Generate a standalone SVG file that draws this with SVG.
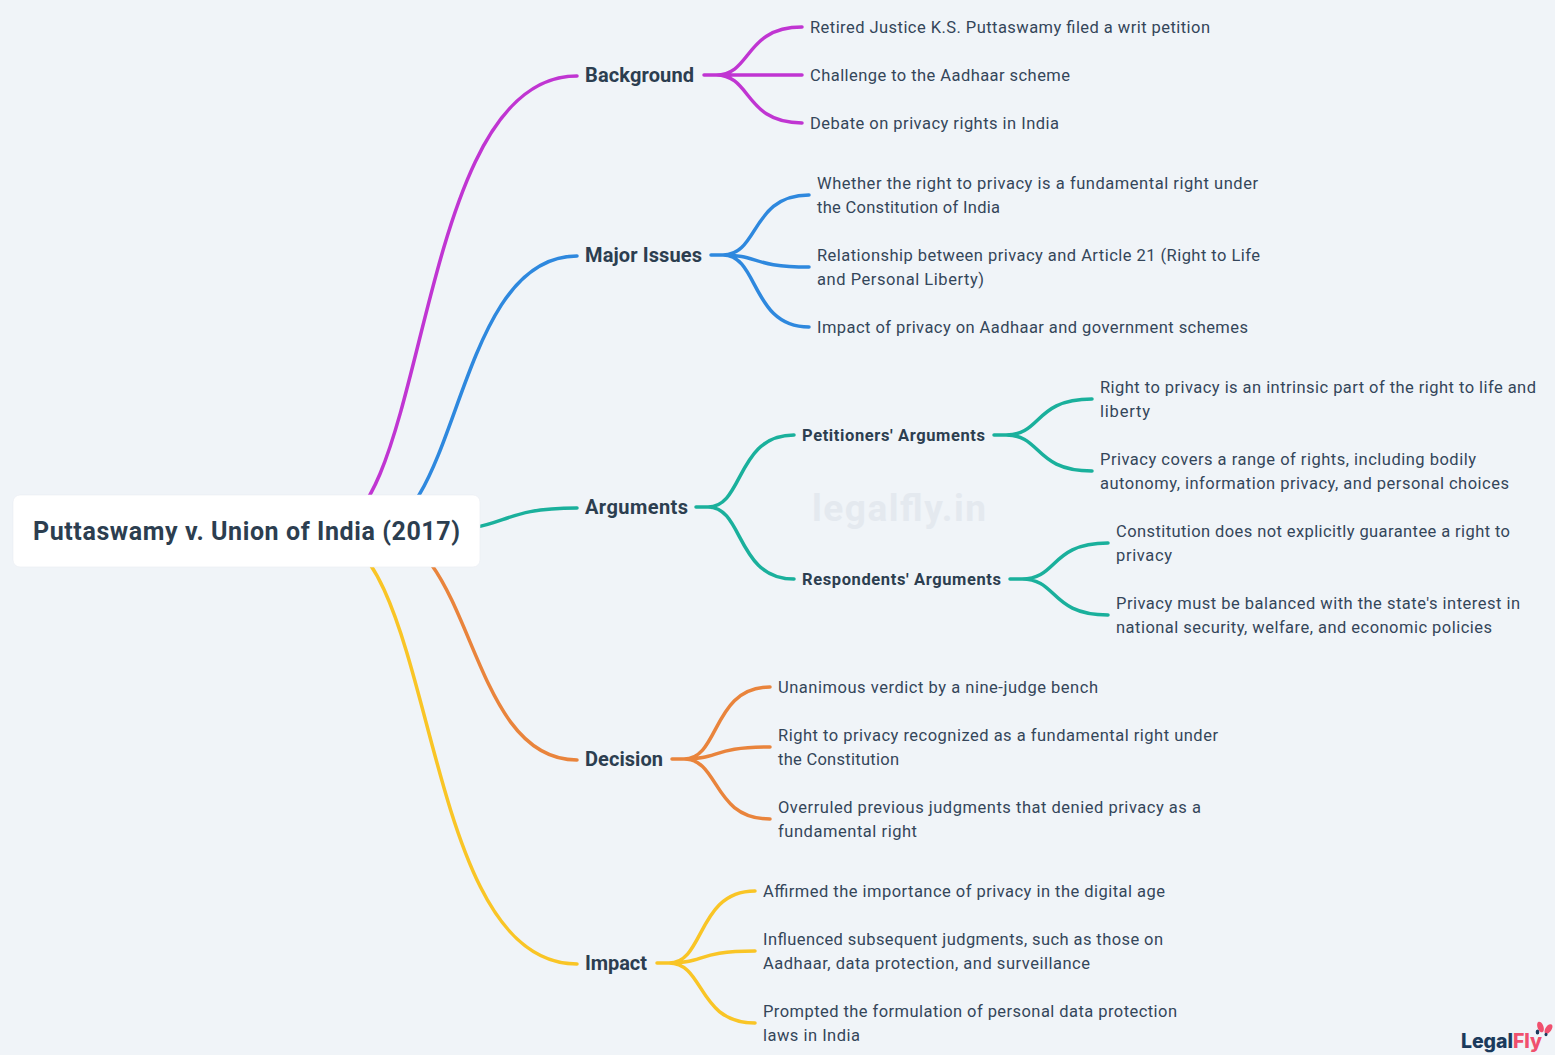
<svg xmlns="http://www.w3.org/2000/svg" width="1555" height="1055" viewBox="0 0 1555 1055">
<style>
text{font-family:Roboto,"Liberation Sans",sans-serif}
.c{fill:none;stroke-width:3.5;stroke-linecap:round}
.p{stroke:#c035d2}.b{stroke:#2e88de}.g{stroke:#1ab09c}.o{stroke:#e9843c}.y{stroke:#f9c526}
.t{font-size:16.5px;fill:#34465a}
.l{font-size:20px;font-weight:700;fill:#2c3e50}
.s{font-size:16.5px;font-weight:700;fill:#2c3e50}
</style>
<rect width="1555" height="1055" fill="#f0f4f8"/>
<text x="812" y="521" font-size="37" font-weight="700" fill="#e4e9ef" textLength="174">legalfly.in</text>
<g id="connectors">
<path class="c p" d="M325 531C430 531 412 76 577 76"/>
<path class="c b" d="M370 531C460 531 454 256 577 256"/>
<path class="c g" d="M430 531C510 531 495 508 577 508"/>
<path class="c o" d="M375 531C475 531 465 760 577 760"/>
<path class="c y" d="M320 531C440 531 415 964 577 964"/>
<path class="c p" d="M704 75H716C752 75 744 27 802 27M704 75H802M704 75H716C752 75 744 123 802 123"/>
<path class="c b" d="M711 255H723C759 255 751 195 809 195M711 255H723C759 255 751 267 809 267M711 255H723C759 255 751 327 809 327"/>
<path class="c g" d="M696 507H708C744 507 736 435 794 435M696 507H708C744 507 736 579 794 579"/>
<path class="c g" d="M994 435H1006C1042 435 1034 399 1092 399M994 435H1006C1042 435 1034 471 1092 471"/>
<path class="c g" d="M1010 579H1022C1058 579 1050 543 1108 543M1010 579H1022C1058 579 1050 615 1108 615"/>
<path class="c o" d="M672 759H684C720 759 712 687 770 687M672 759H684C720 759 712 747 770 747M672 759H684C720 759 712 819 770 819"/>
<path class="c y" d="M657 963H669C705 963 697 891 755 891M657 963H669C705 963 697 951 755 951M657 963H669C705 963 697 1023 755 1023"/>
</g>
<g id="root"><rect x="13" y="495" width="467" height="72" rx="7" fill="#fff" stroke="#e9edf2" stroke-width="0.6"/><text x="33" y="540" font-size="25" font-weight="700" fill="#2c3e50" textLength="427">Puttaswamy v. Union of India (2017)</text></g>
<g id="background"><text class="l" x="585" y="82" textLength="109">Background</text></g>
<g id="b1"><text class="t" x="810" y="33" textLength="400">Retired Justice K.S. Puttaswamy filed a writ petition</text></g>
<g id="b2"><text class="t" x="810" y="81" textLength="260">Challenge to the Aadhaar scheme</text></g>
<g id="b3"><text class="t" x="810" y="129" textLength="249">Debate on privacy rights in India</text></g>
<g id="issues"><text class="l" x="585" y="262" textLength="117">Major Issues</text></g>
<g id="i1"><text class="t" x="817" y="189" textLength="441">Whether the right to privacy is a fundamental right under</text><text class="t" x="817" y="213" textLength="183">the Constitution of India</text></g>
<g id="i2"><text class="t" x="817" y="261" textLength="443">Relationship between privacy and Article 21 (Right to Life</text><text class="t" x="817" y="285" textLength="167">and Personal Liberty)</text></g>
<g id="i3"><text class="t" x="817" y="333" textLength="431">Impact of privacy on Aadhaar and government schemes</text></g>
<g id="arguments"><text class="l" x="585" y="514" textLength="103">Arguments</text></g>
<g id="petitioners"><text class="s" x="802" y="441" textLength="183">Petitioners' Arguments</text></g>
<g id="p1"><text class="t" x="1100" y="393" textLength="436">Right to privacy is an intrinsic part of the right to life and</text><text class="t" x="1100" y="417" textLength="50">liberty</text></g>
<g id="p2"><text class="t" x="1100" y="465" textLength="376">Privacy covers a range of rights, including bodily</text><text class="t" x="1100" y="489" textLength="409">autonomy, information privacy, and personal choices</text></g>
<g id="respondents"><text class="s" x="802" y="585" textLength="199">Respondents' Arguments</text></g>
<g id="r1"><text class="t" x="1116" y="537" textLength="394">Constitution does not explicitly guarantee a right to</text><text class="t" x="1116" y="561" textLength="56">privacy</text></g>
<g id="r2"><text class="t" x="1116" y="609" textLength="404">Privacy must be balanced with the state's interest in</text><text class="t" x="1116" y="633" textLength="376">national security, welfare, and economic policies</text></g>
<g id="decision"><text class="l" x="585" y="766" textLength="78">Decision</text></g>
<g id="d1"><text class="t" x="778" y="693" textLength="320">Unanimous verdict by a nine-judge bench</text></g>
<g id="d2"><text class="t" x="778" y="741" textLength="440">Right to privacy recognized as a fundamental right under</text><text class="t" x="778" y="765" textLength="121">the Constitution</text></g>
<g id="d3"><text class="t" x="778" y="813" textLength="423">Overruled previous judgments that denied privacy as a</text><text class="t" x="778" y="837" textLength="139">fundamental right</text></g>
<g id="impact"><text class="l" x="585" y="970" textLength="62">Impact</text></g>
<g id="m1"><text class="t" x="763" y="897" textLength="402">Affirmed the importance of privacy in the digital age</text></g>
<g id="m2"><text class="t" x="763" y="945" textLength="400">Influenced subsequent judgments, such as those on</text><text class="t" x="763" y="969" textLength="327">Aadhaar, data protection, and surveillance</text></g>
<g id="m3"><text class="t" x="763" y="1017" textLength="414">Prompted the formulation of personal data protection</text><text class="t" x="763" y="1041" textLength="97">laws in India</text></g>
<g id="logo"><text x="1461" y="1048" font-size="19.5" font-weight="800" style="font-family:Inter,sans-serif" textLength="81"><tspan fill="#1b3a5c">Legal</tspan><tspan fill="#f0506e">Fly</tspan></text>
<ellipse cx="1540.5" cy="1027" rx="3" ry="5.5" fill="#f0506e" transform="rotate(-20 1540.5 1027)"/><ellipse cx="1548.5" cy="1029" rx="3" ry="5.5" fill="#f0506e" transform="rotate(35 1548.5 1029)"/><ellipse cx="1537.5" cy="1032" rx="1.8" ry="2.5" fill="#1b3a5c"/><ellipse cx="1546" cy="1034.5" rx="1.5" ry="1.8" fill="#1b3a5c"/></g>
</svg>
